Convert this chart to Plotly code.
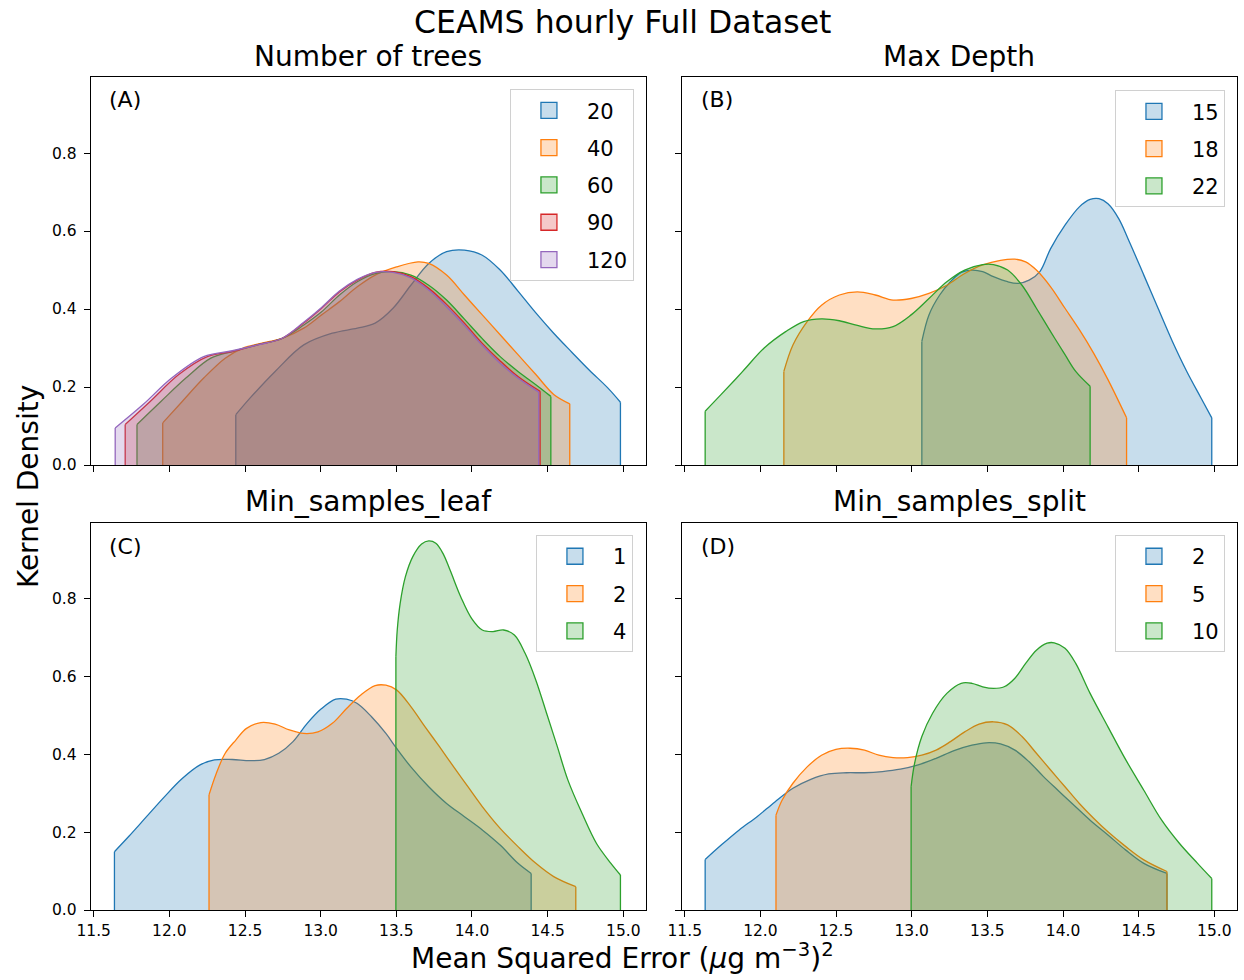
import plotly.graph_objects as go

FONT = "DejaVu Sans"

# ---- (A) Number of trees ------------------------------------------------
trees_labels = ["20", "40", "60", "90", "120"]
trees_x = [
    [12.439, 12.534, 12.699, 12.888, 13.077, 13.242, 13.360, 13.478, 13.596, 13.714, 13.832,
     13.950, 14.068, 14.186, 14.304, 14.422, 14.540, 14.658, 14.776, 14.894, 14.981],
    [11.956, 12.085, 12.227, 12.369, 12.487, 12.605, 12.746, 12.888, 13.006, 13.124, 13.242,
     13.360, 13.501, 13.643, 13.714, 13.832, 13.950, 14.068, 14.186, 14.304, 14.422, 14.540, 14.646],
    [11.786, 11.944, 12.109, 12.274, 12.416, 12.581, 12.746, 12.888, 13.006, 13.124, 13.242,
     13.360, 13.478, 13.596, 13.714, 13.832, 13.950, 14.068, 14.186, 14.304, 14.422, 14.521],
    [11.708, 11.873, 12.062, 12.251, 12.416, 12.581, 12.746, 12.888, 13.006, 13.124, 13.242,
     13.360, 13.478, 13.596, 13.714, 13.832, 13.950, 14.068, 14.186, 14.304, 14.450],
    [11.642, 11.826, 12.015, 12.227, 12.416, 12.581, 12.746, 12.888, 13.006, 13.124, 13.242,
     13.360, 13.478, 13.596, 13.714, 13.832, 13.950, 14.068, 14.186, 14.304, 14.441],
]
trees_y = [
    [0.129, 0.172, 0.240, 0.308, 0.338, 0.351, 0.364, 0.402, 0.461, 0.517, 0.547,
     0.551, 0.538, 0.500, 0.446, 0.390, 0.338, 0.290, 0.243, 0.199, 0.161],
    [0.108, 0.163, 0.223, 0.274, 0.300, 0.312, 0.325, 0.351, 0.385, 0.419, 0.457,
     0.487, 0.508, 0.521, 0.517, 0.487, 0.436, 0.385, 0.334, 0.283, 0.232, 0.181, 0.157],
    [0.104, 0.163, 0.223, 0.274, 0.291, 0.308, 0.325, 0.359, 0.393, 0.436, 0.470,
     0.491, 0.496, 0.487, 0.461, 0.423, 0.374, 0.324, 0.278, 0.240, 0.206, 0.176],
    [0.104, 0.163, 0.232, 0.278, 0.291, 0.308, 0.325, 0.364, 0.402, 0.444, 0.474,
     0.494, 0.496, 0.483, 0.453, 0.412, 0.364, 0.312, 0.267, 0.227, 0.189],
    [0.095, 0.155, 0.223, 0.278, 0.293, 0.308, 0.325, 0.366, 0.404, 0.446, 0.476,
     0.494, 0.494, 0.480, 0.449, 0.406, 0.358, 0.307, 0.261, 0.223, 0.187],
]

# ---- (B) Max Depth -------------------------------------------------------
depth_labels = ["15", "18", "22"]
depth_x = [
    [13.067, 13.114, 13.185, 13.256, 13.327, 13.398, 13.469, 13.540, 13.634, 13.705, 13.776,
     13.847, 13.918, 14.013, 14.108, 14.179, 14.238, 14.297, 14.368, 14.439, 14.534, 14.628,
     14.723, 14.818, 14.912, 14.983],
    [12.155, 12.215, 12.309, 12.404, 12.522, 12.641, 12.759, 12.877, 12.996, 13.114, 13.232,
     13.350, 13.469, 13.587, 13.682, 13.753, 13.824, 13.918, 14.013, 14.108, 14.202, 14.297, 14.420],
    [11.635, 11.741, 11.883, 12.025, 12.167, 12.286, 12.404, 12.522, 12.641, 12.759, 12.877,
     12.996, 13.114, 13.232, 13.350, 13.469, 13.540, 13.634, 13.729, 13.824, 13.918, 14.013,
     14.084, 14.179],
]
depth_y = [
    [0.317, 0.385, 0.436, 0.470, 0.494, 0.500, 0.496, 0.483, 0.470, 0.466, 0.474,
     0.496, 0.555, 0.615, 0.662, 0.681, 0.683, 0.670, 0.632, 0.572, 0.487, 0.402,
     0.317, 0.240, 0.172, 0.121],
    [0.240, 0.308, 0.368, 0.410, 0.436, 0.444, 0.436, 0.423, 0.427, 0.440, 0.461,
     0.491, 0.513, 0.525, 0.528, 0.521, 0.500, 0.457, 0.402, 0.347, 0.287, 0.219, 0.121],
    [0.138, 0.181, 0.240, 0.300, 0.342, 0.368, 0.375, 0.370, 0.358, 0.349, 0.355,
     0.385, 0.427, 0.470, 0.500, 0.514, 0.514, 0.500, 0.461, 0.402, 0.342, 0.283,
     0.240, 0.202],
]

# ---- (C) Min_samples_leaf ------------------------------------------------
leaf_labels = ["1", "2", "4"]
leaf_x = [
    [11.637, 11.731, 11.849, 11.967, 12.085, 12.203, 12.298, 12.416, 12.534, 12.628, 12.723,
     12.817, 12.911, 13.006, 13.100, 13.171, 13.242, 13.336, 13.431, 13.501, 13.596, 13.714,
     13.832, 13.950, 14.068, 14.186, 14.304, 14.391],
    [12.262, 12.310, 12.369, 12.439, 12.510, 12.605, 12.699, 12.793, 12.888, 12.982, 13.077,
     13.171, 13.265, 13.360, 13.431, 13.501, 13.596, 13.690, 13.785, 13.879, 13.973, 14.068,
     14.186, 14.304, 14.422, 14.540, 14.686],
    [13.497, 13.506, 13.525, 13.560, 13.608, 13.667, 13.714, 13.761, 13.808, 13.855, 13.926,
     13.997, 14.068, 14.139, 14.209, 14.280, 14.351, 14.422, 14.493, 14.564, 14.634, 14.728,
     14.823, 14.918, 14.981],
]
leaf_y = [
    [0.150, 0.189, 0.240, 0.291, 0.338, 0.373, 0.386, 0.387, 0.384, 0.387, 0.403,
     0.433, 0.480, 0.518, 0.542, 0.542, 0.531, 0.497, 0.454, 0.416, 0.368, 0.317,
     0.274, 0.240, 0.206, 0.167, 0.120, 0.094],
    [0.296, 0.351, 0.403, 0.437, 0.467, 0.482, 0.478, 0.463, 0.454, 0.458, 0.480,
     0.518, 0.553, 0.577, 0.578, 0.566, 0.523, 0.471, 0.420, 0.368, 0.317, 0.266,
     0.210, 0.163, 0.120, 0.086, 0.060],
    [0.651, 0.720, 0.788, 0.857, 0.908, 0.941, 0.949, 0.943, 0.917, 0.874, 0.805,
     0.750, 0.720, 0.716, 0.720, 0.707, 0.660, 0.591, 0.506, 0.420, 0.334, 0.248,
     0.171, 0.120, 0.090],
]

# ---- (D) Min_samples_split -----------------------------------------------
split_labels = ["2", "5", "10"]
split_x = [
    [11.635, 11.741, 11.860, 11.978, 12.096, 12.215, 12.333, 12.451, 12.570, 12.688, 12.806,
     12.925, 13.043, 13.161, 13.280, 13.398, 13.492, 13.587, 13.682, 13.776, 13.871, 13.966,
     14.060, 14.179, 14.297, 14.415, 14.534, 14.687],
    [12.103, 12.144, 12.215, 12.309, 12.404, 12.499, 12.593, 12.688, 12.783, 12.877, 12.972,
     13.067, 13.161, 13.256, 13.350, 13.445, 13.540, 13.634, 13.729, 13.824, 13.918, 14.013,
     14.108, 14.202, 14.297, 14.415, 14.534, 14.687],
    [12.996, 13.019, 13.067, 13.138, 13.232, 13.327, 13.398, 13.469, 13.540, 13.611, 13.682,
     13.753, 13.824, 13.895, 13.942, 14.013, 14.084, 14.179, 14.297, 14.415, 14.534, 14.652,
     14.770, 14.889, 14.983],
]
split_y = [
    [0.130, 0.167, 0.206, 0.240, 0.278, 0.313, 0.336, 0.350, 0.353, 0.353, 0.356,
     0.362, 0.373, 0.390, 0.410, 0.424, 0.430, 0.427, 0.411, 0.381, 0.343, 0.308,
     0.274, 0.231, 0.193, 0.154, 0.120, 0.094],
    [0.244, 0.283, 0.326, 0.368, 0.398, 0.413, 0.416, 0.411, 0.398, 0.392, 0.392,
     0.398, 0.411, 0.433, 0.458, 0.478, 0.484, 0.476, 0.446, 0.403, 0.360, 0.317,
     0.274, 0.236, 0.201, 0.163, 0.129, 0.099],
    [0.317, 0.377, 0.446, 0.506, 0.557, 0.583, 0.583, 0.574, 0.570, 0.574, 0.596,
     0.634, 0.668, 0.686, 0.687, 0.673, 0.634, 0.557, 0.471, 0.386, 0.308, 0.231,
     0.171, 0.120, 0.081],
]

panel_titles = ["Number of trees", "Max Depth", "Min_samples_leaf", "Min_samples_split"]
panel_tags = ["(A)", "(B)", "(C)", "(D)"]
x_ticks = [11.5, 12.0, 12.5, 13.0, 13.5, 14.0, 14.5, 15.0]
y_ticks = [0.0, 0.2, 0.4, 0.6, 0.8]

COLORS = ["#1f77b4", "#ff7f0e", "#2ca02c", "#d62728", "#9467bd"]


def rgba(hex_color, alpha):
    h = hex_color.lstrip("#")
    r, g, b = int(h[0:2], 16), int(h[2:4], 16), int(h[4:6], 16)
    return f"rgba({r},{g},{b},{alpha})"


# subplot geometry (paper fractions)
x_dom = [[0.0729, 0.5193], [0.5480, 0.9944]]
y_dom = [[0.5255, 0.9214], [0.0714, 0.4663]]

panels = [
    dict(labels=trees_labels, xs=trees_x, ys=trees_y),
    dict(labels=depth_labels, xs=depth_x, ys=depth_y),
    dict(labels=leaf_labels, xs=leaf_x, ys=leaf_y),
    dict(labels=split_labels, xs=split_x, ys=split_y),
]
legend_pos = [(0.5096, 0.9090), (0.9847, 0.9080), (0.5088, 0.4540), (0.9847, 0.4540)]

fig = go.Figure()
LW = 1.3

for p, panel in enumerate(panels):
    suffix = "" if p == 0 else str(p + 1)
    xa, ya = "x" + suffix, "y" + suffix
    leg = "legend" + suffix
    for i, (lab, xs, ys) in enumerate(zip(panel["labels"], panel["xs"], panel["ys"])):
        col = COLORS[i]
        # smoothed density curve, filled down to zero
        fig.add_trace(go.Scatter(
            x=xs, y=ys, mode="lines", fill="tozeroy",
            line=dict(color=col, width=LW, shape="spline", smoothing=1.0),
            fillcolor=rgba(col, 0.25), showlegend=False, hoverinfo="skip",
            xaxis=xa, yaxis=ya,
        ))
        # vertical edges where the density is cut at the data range
        fig.add_trace(go.Scatter(
            x=[xs[0], xs[0], None, xs[-1], xs[-1]],
            y=[0, ys[0], None, ys[-1], 0],
            mode="lines", line=dict(color=col, width=LW),
            showlegend=False, hoverinfo="skip", xaxis=xa, yaxis=ya,
        ))
        # legend swatch
        fig.add_trace(go.Scatter(
            x=[None], y=[None], mode="markers", name=lab,
            marker=dict(symbol="square", size=16, color=rgba(col, 0.25),
                        line=dict(color=col, width=LW)),
            legend=leg, legendgroup=f"{p}-{lab}", xaxis=xa, yaxis=ya,
        ))

layout = dict(
    template="none",
    width=1244, height=980,
    margin=dict(l=0, r=0, t=0, b=0, autoexpand=False),
    paper_bgcolor="white", plot_bgcolor="white",
    font=dict(family=FONT, color="black"),
)

for p in range(4):
    suffix = "" if p == 0 else str(p + 1)
    col, row = p % 2, p // 2
    layout["xaxis" + suffix] = dict(
        domain=x_dom[col], anchor="y" + suffix, range=[11.48, 15.15], automargin=False,
        tickvals=x_ticks, ticktext=[f"{v:.1f}" for v in x_ticks],
        showticklabels=(row == 1), ticks="outside", ticklen=6, tickwidth=1.1,
        tickcolor="black", showline=True, linecolor="black", linewidth=1.1, mirror=True,
        showgrid=False, zeroline=False, tickfont=dict(size=15.5, family=FONT, color="black"),
    )
    layout["yaxis" + suffix] = dict(
        domain=y_dom[row], anchor="x" + suffix, range=[0, 0.995], automargin=False,
        tickvals=y_ticks, ticktext=[f"{v:.1f}" for v in y_ticks],
        showticklabels=(col == 0), ticks="outside", ticklen=6, tickwidth=1.1,
        tickcolor="black", showline=True, linecolor="black", linewidth=1.1, mirror=True,
        showgrid=False, zeroline=False, tickfont=dict(size=15.5, family=FONT, color="black"),
        ticklabelstandoff=4,
    )
    lx, ly = legend_pos[p]
    layout["legend" + suffix] = dict(
        x=lx, y=ly, xanchor="right", yanchor="top",
        bgcolor="rgba(255,255,255,0.8)", bordercolor="#d0d0d0", borderwidth=1,
        font=dict(size=21, family=FONT, color="black"),
        tracegroupgap=7, itemwidth=66,
    )

fig.update_layout(**layout)

ann = []
# suptitle
ann.append(dict(text="CEAMS hourly Full Dataset", x=0.5, y=0.9776, xref="paper", yref="paper",
                xanchor="center", yanchor="middle", showarrow=False, font=dict(size=31.5, family=FONT)))
# panel titles
title_y = [0.9420, 0.9420, 0.4880, 0.4880]
for p in range(4):
    col = p % 2
    cx = sum(x_dom[col]) / 2
    ann.append(dict(text=panel_titles[p], x=cx, y=title_y[p], xref="paper", yref="paper",
                    xanchor="center", yanchor="middle", showarrow=False, font=dict(size=28, family=FONT)))
# panel tags
tag_pos = [(0.0860, 0.8980), (0.5620, 0.8980), (0.0860, 0.4420), (0.5620, 0.4420)]
for p in range(4):
    ann.append(dict(text=panel_tags[p], x=tag_pos[p][0], y=tag_pos[p][1], xref="paper", yref="paper",
                    xanchor="left", yanchor="middle", showarrow=False, font=dict(size=22, family=FONT)))
# shared axis labels
ann.append(dict(text="Kernel Density", x=0.0225, y=0.504, xref="paper", yref="paper",
                xanchor="center", yanchor="middle", textangle=-90, showarrow=False,
                font=dict(size=28, family=FONT)))
ann.append(dict(text="Mean Squared Error (<i>μ</i>g m<sup>−3</sup>)<sup>2</sup>", x=0.5, y=0.0235,
                xref="paper", yref="paper", xanchor="center", yanchor="middle", showarrow=False,
                font=dict(size=28, family=FONT)))
fig.update_layout(annotations=ann)

fig.write_html("out.html")
